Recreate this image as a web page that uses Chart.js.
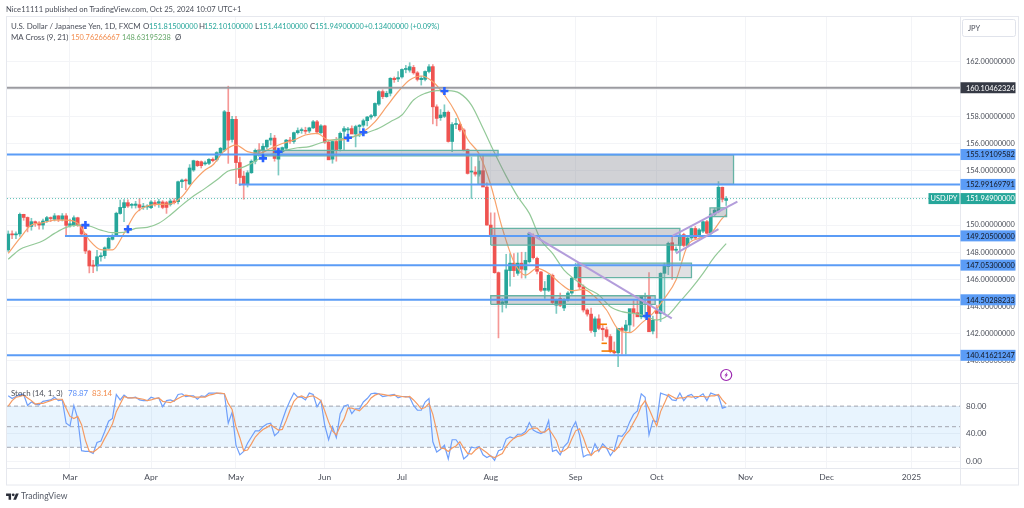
<!DOCTYPE html>
<html>
<head>
<meta charset="utf-8">
<script src="https://cdn.jsdelivr.net/npm/chart.js@4"></script>
<style>
  html, body { margin: 0; padding: 0; background: #fff; }
  body { width: 1024px; height: 508px; position: relative; overflow: hidden; font-family: Lato, sans-serif; }
  canvas { position: absolute; left: 0; top: 0; }
  .txt { position: absolute; white-space: pre; font-size: 7.9px; line-height: 11px; color: #4a4e59; }
  .num { font-size: 7.4px; }
  .teal { color: #26a69a; }
  .orange { color: #f28c4d; }
  .green { color: #66a86a; }
  .blue { color: #5b8ff9; }
</style>
</head>
<body>
<canvas id="chart" width="1024" height="508"></canvas>
<div class="txt" style="left:6px;top:4px;font-size:7.6px">Nice11111 published on TradingView.com, Oct 25, 2024 10:07 UTC+1</div>
<div class="txt" style="left:11px;top:21px">U.S. Dollar / Japanese Yen, 1D, FXCM</div>
<div class="txt" style="left:143px;top:21px">O</div><div class="txt num teal" style="left:149px;top:21px">151.81500000</div>
<div class="txt" style="left:199px;top:21px">H</div><div class="txt num teal" style="left:204px;top:21px">152.10100000</div>
<div class="txt" style="left:255px;top:21px">L</div><div class="txt num teal" style="left:259px;top:21px">151.44100000</div>
<div class="txt" style="left:310px;top:21px">C</div><div class="txt num teal" style="left:315px;top:21px">151.94900000</div>
<div class="txt num teal" style="left:364px;top:21px">+0.13400000 (+0.09%)</div>
<div class="txt" style="left:11px;top:32px">MA Cross (9, 21)</div>
<div class="txt num orange" style="left:71px;top:32px">150.76266667</div>
<div class="txt num green" style="left:122px;top:32px">148.63195238</div>
<div class="txt" style="left:175px;top:32px">Ø</div>
<div class="txt" style="left:11px;top:388px">Stoch (14, 1, 3)</div>
<div class="txt blue" style="left:68px;top:388px">78.87</div>
<div class="txt orange" style="left:92px;top:388px">83.14</div>
<svg style="position:absolute;left:6px;top:492px" width="13" height="10" viewBox="0 0 36 28"><path fill="#2a2e39" d="M14 22H7V11H0V4h14v18zM28 22h-8l7.5-18h8L28 22z"/><circle fill="#2a2e39" cx="20" cy="8" r="4"/></svg>
<div class="txt" style="left:21px;top:491px;font-size:8.6px;color:#555a66">TradingView</div>
<script>
// bars are numbered by trading day, Mar 1 2024 = 0
const firstBar = -16;
const xMin = -16.32, xMax = 230.57;
const monthBars = [0, 21, 43, 66, 86, 109, 131, 152, 175, 196, 218];
const monthLabels = ['Mar', 'Apr', 'May', 'Jun', 'Jul', 'Aug', 'Sep', 'Oct', 'Nov', 'Dec', '2025'];
const priceTicks = [140, 142, 144, 146, 148, 150, 152, 154, 156, 158, 160, 162];
const stochTicks = [0, 40, 80];

const opens = [
  148.17,149.34,149.28,149.35,150.79,150.56,149.90,150.25,150.15,150.00,150.30,150.50,150.42,150.68,150.42,150.68,
  149.97,150.00,150.54,150.00,149.34,148.09,147.06,146.99,147.67,147.75,148.29,148.95,149.19,150.85,151.28,151.65,
  151.45,151.45,151.50,151.32,151.33,151.28,151.62,151.60,151.70,151.65,151.52,151.77,151.72,153.19,153.31,153.02,
  154.05,154.69,154.66,154.50,154.54,154.84,154.80,155.30,155.52,158.30,156.30,157.78,154.60,153.60,153.00,153.85,
  154.70,155.50,155.50,155.75,156.25,156.40,154.85,155.40,155.65,156.25,156.15,156.80,156.95,156.95,156.92,157.15,
  157.60,156.80,157.30,156.10,154.85,156.15,155.60,156.90,157.00,157.10,156.70,157.25,157.35,157.68,157.95,158.05,
  158.90,159.82,159.45,159.70,160.80,160.75,160.90,161.45,161.40,161.60,161.20,160.70,160.72,161.30,161.66,158.70,
  157.90,158.00,158.30,156.15,157.40,157.40,157.00,155.55,153.90,153.90,153.75,154.00,152.80,150.00,149.25,146.50,
  144.20,144.25,146.65,147.20,146.45,147.20,146.70,147.30,149.25,147.55,146.55,145.20,145.20,146.30,144.10,144.60,
  143.90,144.50,145.00,146.10,146.90,145.45,143.75,143.45,142.15,143.10,142.40,142.30,141.80,140.70,140.60,142.40,
  142.25,142.65,143.85,143.55,143.25,144.75,144.80,142.20,143.75,143.50,146.45,146.95,148.70,148.15,148.50,149.30,
  148.50,149.05,149.75,149.20,149.55,150.25,149.40,150.80,151.00,152.78,151.815
];
const highs = [
  149.57,149.58,149.50,150.89,150.80,150.60,150.50,150.30,150.25,150.45,150.65,150.60,150.85,150.70,150.85,150.85,
  150.45,150.68,150.58,150.05,149.40,148.15,147.40,148.15,147.95,148.40,149.20,149.35,150.95,151.84,151.88,151.85,
  151.60,151.75,151.97,151.60,151.50,151.80,151.80,151.90,151.80,151.75,151.92,151.95,153.24,153.38,153.40,154.45,
  154.78,154.75,154.72,154.70,154.90,154.95,155.40,155.72,158.44,160.22,158.00,158.00,155.00,153.95,154.00,154.80,
  155.60,156.00,156.00,156.25,156.75,156.60,155.45,155.75,156.30,156.45,156.85,157.15,157.15,157.20,157.20,157.70,
  157.70,157.40,157.35,156.25,156.20,156.45,156.85,157.25,157.20,157.30,157.35,157.40,157.80,158.00,158.15,159.00,
  159.90,159.95,159.85,160.85,160.90,161.30,161.50,161.75,161.95,161.75,161.30,160.95,161.35,161.80,161.80,158.85,
  158.50,158.85,158.40,157.55,157.85,157.50,157.10,155.60,155.00,154.30,154.70,155.20,153.10,150.90,150.90,146.55,
  144.60,147.85,147.90,147.90,147.95,148.00,148.00,149.45,149.35,147.65,146.60,145.85,146.40,146.40,144.55,145.00,
  144.60,145.10,146.15,147.20,147.20,145.60,143.85,143.90,143.25,143.40,142.70,142.50,141.95,141.40,141.50,142.50,
  143.00,142.90,144.50,144.50,144.50,145.00,146.50,143.30,144.10,146.50,147.20,148.75,149.10,148.40,149.30,149.40,
  149.10,149.80,149.90,149.75,150.30,150.35,150.85,151.25,153.20,152.80,152.101
];
const lows = [
  148.05,149.00,149.00,149.17,150.35,149.50,149.62,149.90,149.70,149.70,150.20,150.25,150.30,150.25,150.30,149.20,
  149.85,149.90,149.90,149.20,147.90,146.48,146.50,146.62,147.35,147.55,148.25,148.90,149.15,150.80,150.25,151.30,
  151.25,151.25,151.05,151.15,151.15,151.20,151.40,151.30,151.20,150.86,151.40,151.55,151.56,152.75,152.60,152.95,
  153.95,154.30,154.20,154.40,154.45,154.65,154.70,155.20,155.40,154.54,156.10,153.05,152.90,151.90,152.80,153.80,
  154.50,155.20,155.20,155.60,155.90,154.70,153.68,155.30,155.50,156.00,156.00,156.70,156.75,156.70,156.80,157.10,
  156.70,156.70,156.00,154.90,154.55,154.70,155.45,155.50,156.75,156.85,155.75,156.50,157.20,157.30,157.80,157.95,
  158.80,159.30,159.40,159.50,160.50,160.55,160.80,161.20,161.25,161.10,160.60,160.30,160.60,161.20,157.44,157.30,
  157.70,157.90,156.10,155.40,157.10,156.90,155.45,153.75,151.95,153.60,153.60,153.20,150.00,149.10,146.45,141.70,
  143.60,143.90,145.50,146.20,146.30,146.10,146.10,147.20,147.50,146.40,145.10,144.60,145.10,144.20,143.50,144.00,
  143.70,144.40,144.90,146.00,145.30,143.60,143.30,142.10,141.80,142.30,141.50,141.70,140.60,140.50,139.58,140.50,
  140.50,142.15,142.55,143.40,143.10,143.15,144.40,142.00,141.70,142.90,143.40,146.35,146.00,148.00,147.40,148.40,
  148.40,148.90,148.95,149.10,149.45,149.35,149.30,150.70,150.90,151.70,151.441
];
const closes = [
  149.34,149.28,149.35,150.79,150.56,149.90,150.25,150.15,150.00,150.30,150.55,150.48,150.68,150.42,150.68,149.98,
  150.10,150.54,150.00,149.34,148.09,146.99,146.97,147.67,147.75,148.33,149.03,149.19,150.87,151.30,151.65,151.40,
  151.50,151.55,151.30,151.35,151.40,151.70,151.58,151.72,151.30,151.30,151.77,151.65,153.19,153.31,153.25,154.20,
  154.74,154.37,154.37,154.58,154.84,154.74,155.33,155.65,158.34,156.25,157.78,154.60,153.50,153.00,153.85,154.70,
  155.50,155.45,155.80,156.25,156.40,154.90,155.40,155.70,156.25,156.18,156.80,156.95,157.00,156.90,157.15,157.60,
  156.85,157.30,156.10,154.80,156.15,155.55,156.75,157.10,157.05,156.70,157.25,157.35,157.68,157.95,158.05,158.95,
  159.82,159.45,159.70,160.80,160.70,160.85,161.45,161.45,161.65,161.20,160.72,160.80,161.30,161.65,158.70,157.85,
  158.10,158.30,156.15,157.40,157.45,157.00,155.50,153.80,153.92,153.75,154.00,152.80,150.00,149.30,146.50,144.20,
  144.35,146.70,147.20,146.65,147.20,146.75,147.40,149.40,147.60,146.60,145.20,145.35,146.30,144.30,144.50,144.10,
  144.50,145.00,146.10,146.90,145.45,143.75,143.45,142.25,143.10,142.40,142.30,141.80,140.70,140.60,142.40,142.25,
  142.65,143.85,143.55,143.25,144.75,144.80,142.15,143.00,143.50,146.45,147.05,148.65,148.15,148.20,149.25,148.50,
  149.05,149.75,149.05,149.65,150.25,149.40,150.80,151.10,152.78,151.90,151.949
];

// moving averages, at the bars where they could be read
const ma9Bars = [-16,-13,-10,-7,-4,-1,2,5,8,11,14,17,20,23,26,29,32,35,37,40,43,46,49,52,55,58,61,64,67,70,73,76,79,82,85,88,91,94,97,100,103,106,109,112,115,118,121,124,127,130,133,136,139,142,145,148,151,154,157,160,163,166,169,170];
const ma9Values = [147.92,149.02,150.0,150.17,150.37,150.37,150.13,148.9,148.2,148.17,149.39,150.86,151.4,151.52,151.55,152.09,153.19,154.05,154.42,155.47,155.89,155.4,155.28,155.65,156.0,156.26,156.63,156.75,156.26,156.26,156.45,156.87,157.6,158.71,159.81,160.67,160.97,160.55,159.57,158.22,156.31,155.23,152.95,149.76,147.3,146.32,146.81,146.45,145.71,145.17,145.27,144.73,143.75,142.33,142.08,142.77,143.5,144.6,145.96,148.5,149.02,149.39,150.49,150.76];
const ma21Bars = [-16,-13,-10,-7,-4,-1,2,5,8,11,14,17,20,23,26,29,32,35,38,41,44,47,50,53,56,59,62,65,68,71,74,77,80,83,86,89,92,95,98,101,104,107,110,113,116,119,122,125,128,131,134,137,140,143,146,149,152,155,158,161,164,167,170];
const ma21Values = [147.48,148.21,148.53,148.85,149.39,149.83,150.0,149.93,149.63,149.44,149.46,149.76,149.83,150.13,150.74,151.47,152.14,152.7,153.31,153.98,154.17,154.54,155.03,155.28,155.52,155.69,155.77,156.06,156.26,156.38,156.55,156.8,157.12,157.61,158.1,159.2,159.69,159.89,159.89,159.69,158.83,157.12,155.3,153.6,152.09,150.86,148.9,147.92,146.69,145.96,145.34,144.85,143.99,143.63,143.5,143.31,143.01,143.38,144.36,145.34,146.45,147.67,148.63];

const stochK = [
  95,91,94,97,97,81,86,83,82,87,88,89,93,88,89,55,51,81,62,15,14,14,11,27,29,43,58,62,97,89,96,92,
  92,93,89,88,88,93,91,92,79,88,89,87,97,98,94,95,95,90,95,94,99,99,99,98,98,55,71,23,9,14,
  26,35,44,44,50,54,55,37,42,59,75,88,99,93,93,89,99,97,79,88,52,31,50,34,69,80,82,69,76,76,
  86,91,98,99,98,94,95,96,97,92,94,94,93,81,74,74,86,91,28,13,17,23,3,31,31,23,3,8,20,19,
  21,9,5,8,1,15,17,32,35,33,39,39,43,56,45,42,40,43,59,14,16,9,21,27,47,57,38,6,9,9,
  25,14,25,19,8,16,37,36,43,57,68,73,98,93,38,59,57,99,97,95,89,88,99,88,95,97,91,94,98,88,
  99,97,95,77,78.87
];
const stochD = [
  80,88,93,94,96,92,88,83,84,84,86,88,90,90,90,77,65,62,65,53,30,14,13,17,22,33,43,54,72,83,94,92,
  92,92,91,90,88,89,91,92,87,86,85,88,91,94,96,95,93,93,93,93,96,97,99,99,98,84,75,50,34,15,
  16,25,35,41,46,49,53,49,45,46,59,74,87,93,95,92,94,95,92,88,73,57,44,38,51,61,77,77,75,73,
  79,84,92,96,98,97,96,95,96,95,94,93,94,89,83,76,78,84,68,44,19,18,14,19,22,28,19,11,10,16,
  20,16,12,7,5,8,11,21,28,33,36,37,40,46,48,48,42,42,47,39,30,13,15,19,32,44,47,34,18,8,
  14,16,21,19,17,14,20,30,39,45,56,66,80,88,76,63,51,72,84,97,94,91,92,92,94,93,94,94,94,93,
  95,95,97,89,83.14
];

// horizontal levels
const levelValues = [155.19109582, 152.99169791, 149.205, 147.053, 144.50288233, 140.41621247];
const levelStarts = [xMin, 43.7, -1.3, 7, xMin, xMin];
const greyLevel = 160.10462324;
const lastPrice = 151.949;

// zones
const boxLefts = [48.7, 105.7, 109, 131.6, 109, 165.8];
const boxRights = [110.9, 171.9, 158, 161, 151.6, 170.1];
const boxTops = [155.49, 155.16, 149.76, 147.2, 144.8, 151.26];
const boxBottoms = [155.09, 153.0, 148.53, 146.13, 144.17, 150.62];

// trend lines
const trendBars = [[118.7, 155.9], [156.1, 172.9], [157, 168]];
const trendPrices = [[149.47, 143.14], [149.2, 151.72], [147.92, 149.71]];

// orange marks near the Sep low
const markBars = [[136.8, 139.1], [137.7, 139.1], [137.7, 141.2]];
const markPrices = [142.7, 141.3, 140.73];

// MA cross signs
const crossBars = [4, 15, 50, 54, 72, 76, 97, 149.4];
const crossPrices = [150.0, 149.69, 154.91, 155.4, 156.43, 156.83, 159.87, 143.31];

const UP = '#26a69a', DOWN = '#ef5350', LEVEL = '#5b9cf6';
const FONT = 'Lato, sans-serif';
const TEXT = '#4a4e59';

const barColors = closes.map((c, i) => c >= opens[i] ? UP : DOWN);
const wickColors = closes.map((c, i) => c >= opens[i] ? 'rgba(38,166,154,0.6)' : 'rgba(239,83,80,0.6)');
const toLine = (bars, values) => bars.map((b, i) => ({ x: b, y: values[i] }));
const seq = values => values.map((v, i) => ({ x: firstBar + i, y: v }));

const line = (data, color, width, order, extra) => Object.assign({
  type: 'line', data, borderColor: color, borderWidth: width, order, pointRadius: 0, fill: false, yAxisID: 'y'
}, extra || {});

const datasets = [];

// candles: wick and body are floating bars on the same x
datasets.push({
  type: 'bar', data: opens.map((o, i) => ({ x: firstBar + i, y: [lows[i], highs[i]] })),
  backgroundColor: wickColors, barThickness: 1, grouped: false, order: 9, yAxisID: 'y'
});
datasets.push({
  type: 'bar', data: opens.map((o, i) => ({ x: firstBar + i, y: [o, closes[i]] })),
  backgroundColor: barColors, barThickness: 3, minBarLength: 1, grouped: false, order: 8, yAxisID: 'y'
});

datasets.push(line(toLine(ma21Bars, ma21Values), '#93c998', 1.2, 7, { cubicInterpolationMode: 'monotone' }));
datasets.push(line(toLine(ma9Bars, ma9Values), '#f7a26b', 1.2, 7, { cubicInterpolationMode: 'monotone' }));

boxLefts.forEach((l, i) => {
  const r = boxRights[i], t = boxTops[i], b = boxBottoms[i];
  datasets.push(line(toLine([l, l, r, r, l], [b, t, t, b, b]), '#66b3a5', 1.3, 6, {
    fill: 'shape', backgroundColor: i === 3 ? 'rgba(140,142,150,0.27)' : 'rgba(120,123,134,0.34)'
  }));
});

datasets.push(line(toLine([xMin, xMax], [lastPrice, lastPrice]), '#5cc0b5', 1, 5, { borderDash: [1, 2] }));
datasets.push(line(toLine([xMin, xMax], [greyLevel, greyLevel]), '#9b9ba1', 2.2, 4));
levelValues.forEach((v, i) => {
  datasets.push(line(toLine([levelStarts[i], xMax], [v, v]), LEVEL, 2, 4));
});
trendBars.forEach((b, i) => {
  datasets.push(line(toLine(b, trendPrices[i]), '#b39ddb', 2, 3));
});
markBars.forEach((b, i) => {
  datasets.push(line(toLine(b, [markPrices[i], markPrices[i]]), '#f57c00', 1.6, 3));
});
datasets.push(line(toLine(crossBars, crossPrices), '#2962ff', 2.6, 2, {
  showLine: false, pointStyle: 'cross', pointRadius: 4, pointHoverRadius: 4, pointBorderColor: '#2962ff', pointBorderWidth: 2.6
}));

// stochastic pane
datasets.push(line(toLine([xMin, xMax], [80, 80]), 'rgba(0,0,0,0)', 0, 12, {
  yAxisID: 'stoch', fill: { target: { value: 20 } }, backgroundColor: 'rgba(33,150,243,0.1)'
}));
[80, 50, 20].forEach(v => {
  datasets.push(line(toLine([xMin, xMax], [v, v]), '#a3a6af', 1, 11, { yAxisID: 'stoch', borderDash: [4, 3] }));
});
datasets.push(line(seq(stochK), '#6f9ffa', 1.2, 10, { yAxisID: 'stoch' }));
datasets.push(line(seq(stochD), '#f59a62', 1.2, 9, { yAxisID: 'stoch' }));

const fixedTicks = list => axis => { axis.ticks = list.map(value => ({ value })); };

const tagPlugin = {
  id: 'tags',
  afterDraw(chart) {
    const { ctx, scales } = chart;
    const y = scales.y, stoch = scales.stoch, xs = scales.x;
    const axisLeft = xs.right, frameRight = y.right, frameLeft = xs.left - 1;
    ctx.save();

    // frame and pane separators
    ctx.strokeStyle = '#e6e8ee';
    ctx.lineWidth = 1;
    ctx.strokeRect(frameLeft + 0.5, y.top - 0.5, frameRight - frameLeft, xs.bottom - y.top + 0.5);
    ctx.beginPath();
    ctx.moveTo(frameLeft, Math.round(stoch.top) + 0.5); ctx.lineTo(frameRight, Math.round(stoch.top) + 0.5);
    ctx.moveTo(frameLeft, Math.round(stoch.bottom) + 0.5); ctx.lineTo(frameRight, Math.round(stoch.bottom) + 0.5);
    ctx.moveTo(Math.round(axisLeft) + 0.5, y.top); ctx.lineTo(Math.round(axisLeft) + 0.5, xs.bottom);
    ctx.stroke();

    // price tags
    ctx.font = '7.4px ' + FONT;
    ctx.textBaseline = 'middle';
    const tag = (value, bg, fg) => {
      const py = y.getPixelForValue(value);
      ctx.fillStyle = bg;
      ctx.fillRect(axisLeft + 0.5, py - 5.5, 55, 11);
      ctx.fillStyle = fg;
      ctx.textAlign = 'left';
      ctx.fillText(value.toFixed(8), axisLeft + 6, py + 0.5);
    };
    tag(greyLevel, '#363a45', '#ffffff');
    levelValues.forEach(v => tag(v, LEVEL, '#131722'));
    tag(lastPrice, UP, '#ffffff');
    const py = y.getPixelForValue(lastPrice);
    ctx.fillStyle = UP;
    ctx.fillRect(axisLeft - 31.5, py - 5.5, 31, 11);
    ctx.fillStyle = '#ffffff';
    ctx.textAlign = 'center';
    ctx.fillText('USDJPY', axisLeft - 16, py + 0.5);

    // currency box
    ctx.fillStyle = '#ffffff';
    ctx.strokeStyle = '#e0e3eb';
    ctx.beginPath();
    ctx.roundRect(axisLeft + 2.5, y.top + 2.5, 53, 17, 2);
    ctx.fill(); ctx.stroke();
    ctx.fillStyle = TEXT;
    ctx.textAlign = 'left';
    ctx.fillText('JPY', axisLeft + 8, y.top + 11.5);

    // news badge above the last bar
    const bx = xs.getPixelForValue(170), by = stoch.top - 8;
    ctx.strokeStyle = '#9c27b0';
    ctx.lineWidth = 1.2;
    ctx.beginPath(); ctx.arc(bx, by, 5.5, 0, Math.PI * 2); ctx.stroke();
    ctx.fillStyle = '#9c27b0';
    ctx.beginPath();
    ctx.moveTo(bx + 1.2, by - 3.2); ctx.lineTo(bx - 1.8, by + 0.6); ctx.lineTo(bx - 0.2, by + 0.6);
    ctx.lineTo(bx - 1.2, by + 3.2); ctx.lineTo(bx + 1.8, by - 0.6); ctx.lineTo(bx + 0.2, by - 0.6);
    ctx.closePath(); ctx.fill();
    ctx.restore();
  }
};

new Chart(document.getElementById('chart').getContext('2d'), {
  type: 'bar',
  data: { datasets },
  options: {
    responsive: false,
    animation: false,
    events: [],
    layout: { padding: { left: 7, right: 6, top: 17, bottom: 23 } },
    plugins: { legend: { display: false }, tooltip: { enabled: false }, title: { display: false } },
    scales: {
      x: {
        type: 'linear', min: xMin, max: xMax, offset: false,
        afterBuildTicks: fixedTicks(monthBars),
        afterFit: axis => { axis.height = 17; },
        grid: { color: '#f3f4f7', drawTicks: false, offset: false },
        border: { display: false },
        ticks: {
          autoSkip: false, maxRotation: 0, padding: 4,
          font: { family: FONT, size: 8.4 }, color: TEXT,
          callback: value => monthLabels[monthBars.indexOf(value)] || ''
        }
      },
      y: {
        type: 'linear', position: 'right', min: 138.38, max: 165.31,
        stack: 'panes', stackWeight: 366,
        afterBuildTicks: fixedTicks(priceTicks),
        afterFit: axis => { axis.width = 58; },
        grid: { color: '#f3f4f7', drawTicks: false },
        border: { display: false },
        ticks: {
          crossAlign: 'near', padding: 6, autoSkip: false,
          font: { family: FONT, size: 7.4 }, color: TEXT,
          callback: value => value.toFixed(8)
        }
      },
      stoch: {
        type: 'linear', position: 'right', min: -10.2, max: 113.7,
        stack: 'panes', stackWeight: 85,
        afterBuildTicks: fixedTicks(stochTicks),
        afterFit: axis => { axis.width = 58; },
        grid: { color: '#f3f4f7', drawTicks: false },
        border: { display: false },
        ticks: {
          crossAlign: 'near', padding: 6, autoSkip: false,
          font: { family: FONT, size: 8 }, color: TEXT,
          callback: value => value.toFixed(2)
        }
      }
    }
  },
  plugins: [tagPlugin]
});
</script>
</body>
</html>
